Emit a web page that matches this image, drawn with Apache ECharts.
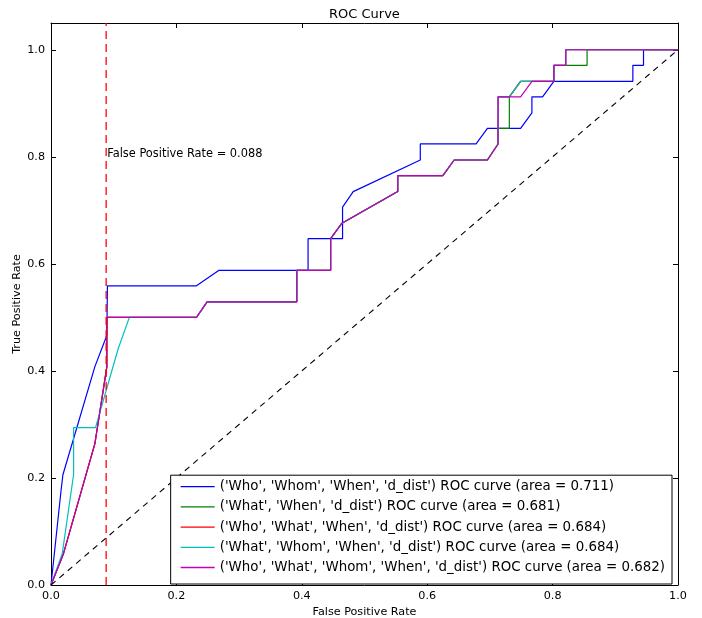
<!DOCTYPE html>
<html>
<head>
<meta charset="utf-8">
<script src="https://cdn.jsdelivr.net/npm/echarts@6/dist/echarts.min.js"></script>
<style>
html,body{margin:0;padding:0;background:#fff;}
#chart{width:702px;height:618px;}
</style>
</head>
<body>
<div id="chart"></div>
<script>
// ---- data ----
var seriesNames = [
  "('Who', 'Whom', 'When', 'd_dist') ROC curve (area = 0.711)",
  "('What', 'When', 'd_dist') ROC curve (area = 0.681)",
  "('Who', 'What', 'When', 'd_dist') ROC curve (area = 0.684)",
  "('What', 'Whom', 'When', 'd_dist') ROC curve (area = 0.684)",
  "('Who', 'What', 'Whom', 'When', 'd_dist') ROC curve (area = 0.682)"
];
var seriesColors = ['#0000ff', '#008000', '#ff0000', '#00bfbf', '#bf00bf'];

var fprWhoWhomWhen = [0,0.016,0.019,0.070,0.089,0.090,0.232,0.268,0.410,0.410,0.465,0.465,0.482,0.589,0.589,0.678,0.696,0.749,0.767,0.767,0.784,0.802,0.928,0.928,0.945,0.945,1.0];
var tprWhoWhomWhen = [0,0.176,0.206,0.408,0.466,0.559,0.559,0.588,0.588,0.647,0.647,0.706,0.735,0.794,0.824,0.824,0.853,0.853,0.882,0.912,0.912,0.941,0.941,0.971,0.971,1.0,1.0];

var fprWhatWhen = [0,0.020,0.070,0.089,0.089,0.232,0.249,0.392,0.392,0.446,0.446,0.464,0.553,0.553,0.625,0.643,0.696,0.713,0.713,0.731,0.731,0.749,0.802,0.802,0.855,0.855,1.0];
var tprWhatWhen = [0,0.059,0.264,0.407,0.5,0.5,0.529,0.529,0.588,0.588,0.647,0.676,0.735,0.765,0.765,0.794,0.794,0.824,0.853,0.853,0.912,0.941,0.941,0.971,0.971,1.0,1.0];

var fprWhoWhatWhen = [0,0.020,0.070,0.089,0.089,0.232,0.249,0.392,0.392,0.446,0.446,0.464,0.553,0.553,0.625,0.643,0.696,0.713,0.713,0.731,0.749,0.802,0.802,0.821,0.821,1.0];
var tprWhoWhatWhen = [0,0.059,0.264,0.407,0.5,0.5,0.529,0.529,0.588,0.588,0.647,0.676,0.735,0.765,0.765,0.794,0.794,0.824,0.912,0.912,0.941,0.941,0.971,0.971,1.0,1.0];

var fprWhatWhomWhen = [0,0.018,0.036,0.036,0.071,0.107,0.125,0.232,0.249,0.392,0.392,0.446,0.446,0.464,0.553,0.553,0.625,0.643,0.696,0.713,0.713,0.731,0.749,0.802,0.802,0.821,0.821,1.0];
var tprWhatWhomWhen = [0,0.059,0.206,0.294,0.294,0.441,0.5,0.5,0.529,0.529,0.588,0.588,0.647,0.676,0.735,0.765,0.765,0.794,0.794,0.824,0.912,0.912,0.941,0.941,0.971,0.971,1.0,1.0];

var fprWhoWhatWhomWhen = [0,0.020,0.070,0.089,0.089,0.232,0.249,0.392,0.392,0.446,0.446,0.464,0.553,0.553,0.625,0.643,0.696,0.713,0.713,0.749,0.767,0.802,0.802,0.821,0.821,1.0];
var tprWhoWhatWhomWhen = [0,0.059,0.264,0.407,0.5,0.5,0.529,0.529,0.588,0.588,0.647,0.676,0.735,0.765,0.765,0.794,0.794,0.824,0.912,0.912,0.941,0.941,0.971,0.971,1.0,1.0];

var chanceX = [0, 1];
var chanceY = [0, 1];
var thresholdFpr = 0.088;
var thresholdLineY = [0, 1.05];
var annotationY = 0.806;
var annotationText = 'False Positive Rate = 0.088';

var xTickLabels = ['0.0','0.2','0.4','0.6','0.8','1.0'];
var yTickLabels = ['0.0','0.2','0.4','0.6','0.8','1.0'];

// ---- build ----
function zip(xs, ys){ var out=[]; for(var i=0;i<xs.length;i++){ out.push([xs[i], ys[i]]); } return out; }
var curves = [
  zip(fprWhoWhomWhen, tprWhoWhomWhen),
  zip(fprWhatWhen, tprWhatWhen),
  zip(fprWhoWhatWhen, tprWhoWhatWhen),
  zip(fprWhatWhomWhen, tprWhatWhomWhen),
  zip(fprWhoWhatWhomWhen, tprWhoWhatWhomWhen)
];

var FONT = 'DejaVu Sans';
var series = curves.map(function(d, i){
  return {
    name: seriesNames[i], type: 'line', data: d, symbol: 'none', showSymbol: false,
    lineStyle: {color: seriesColors[i], width: 1.2},
    itemStyle: {color: seriesColors[i]},
    animation: false, z: 2
  };
});
series.push({
  name: 'chance', type: 'line', data: zip(chanceX, chanceY), symbol: 'none',
  lineStyle: {color: '#000', width: 1.1, type: [6, 5]}, animation: false, z: 3
});
series.push({
  name: 'threshold', type: 'line', data: zip([thresholdFpr, thresholdFpr], thresholdLineY), symbol: 'none',
  lineStyle: {color: 'rgba(255,0,0,0.8)', width: 1.6, type: [8, 5]}, animation: false, z: 3
});
series.push({
  name: 'annotation', type: 'scatter', data: [[thresholdFpr, annotationY]], symbolSize: 0,
  itemStyle: {opacity: 1},
  label: {show: true, position: 'right', distance: 1, formatter: annotationText,
          color: '#000', fontFamily: FONT, fontSize: 11.4},
  emphasis: {disabled: true},
  silent: true, animation: false, z: 4
});

var axisCommon = {
  min: 0, interval: 0.2,
  axisLine: {show: true, onZero: false, lineStyle: {color: '#000', width: 1}},
  axisTick: {show: true, inside: true, length: 5, lineStyle: {color: '#000'}},
  splitLine: {show: false}
};

var option = {
  backgroundColor: '#fff',
  animation: false,
  title: {text: 'ROC Curve', left: 324, top: 3,
          textStyle: {fontFamily: FONT, fontSize: 13, fontWeight: 'normal', color: '#000'}},
  grid: {left: 51, right: 24, top: 23, bottom: 33, containLabel: false, outerBoundsMode: 'none'},
  legend: {
    data: seriesNames, orient: 'vertical', right: 30, bottom: 34,
    icon: 'rect', itemWidth: 34, itemHeight: 1.3, itemGap: 5.2,
    padding: [4, 7, 9, 10],
    borderColor: '#000', borderWidth: 1, backgroundColor: '#fff',
    textStyle: {fontFamily: FONT, fontSize: 13.4, color: '#000', lineHeight: 15},
    selectedMode: false
  },
  xAxis: [
    Object.assign({}, axisCommon, {
      type: 'value', max: 1, position: 'bottom',
      name: 'False Positive Rate', nameLocation: 'middle', nameGap: 21,
      nameTextStyle: {fontFamily: FONT, fontSize: 11.2, color: '#000'},
      axisLabel: {margin: 6, fontFamily: FONT, fontSize: 11.2, color: '#000',
        formatter: function(v){ var i = Math.round(v/0.2); return Math.abs(v - i*0.2) < 1e-6 ? xTickLabels[i] : ''; }}
    }),
    Object.assign({}, axisCommon, {
      type: 'value', max: 1, position: 'top', axisLabel: {show: false}
    })
  ],
  yAxis: [
    Object.assign({}, axisCommon, {
      type: 'value', max: 1.05, position: 'left',
      name: 'True Positive Rate', nameLocation: 'middle', nameGap: 28, nameRotate: 90,
      nameMoveOverlap: false,
      nameTextStyle: {fontFamily: FONT, fontSize: 11.2, color: '#000'},
      axisLabel: {margin: 6, fontFamily: FONT, fontSize: 11.2, color: '#000',
        formatter: function(v){ var i = Math.round(v/0.2); return (Math.abs(v - i*0.2) < 1e-6 && i < yTickLabels.length) ? yTickLabels[i] : ''; }}
    }),
    Object.assign({}, axisCommon, {
      type: 'value', max: 1.05, position: 'right', axisLabel: {show: false}
    })
  ],
  series: series
};

var chart = echarts.init(document.getElementById('chart'), null, {renderer: 'canvas'});
chart.setOption(option);
</script>
</body>
</html>
